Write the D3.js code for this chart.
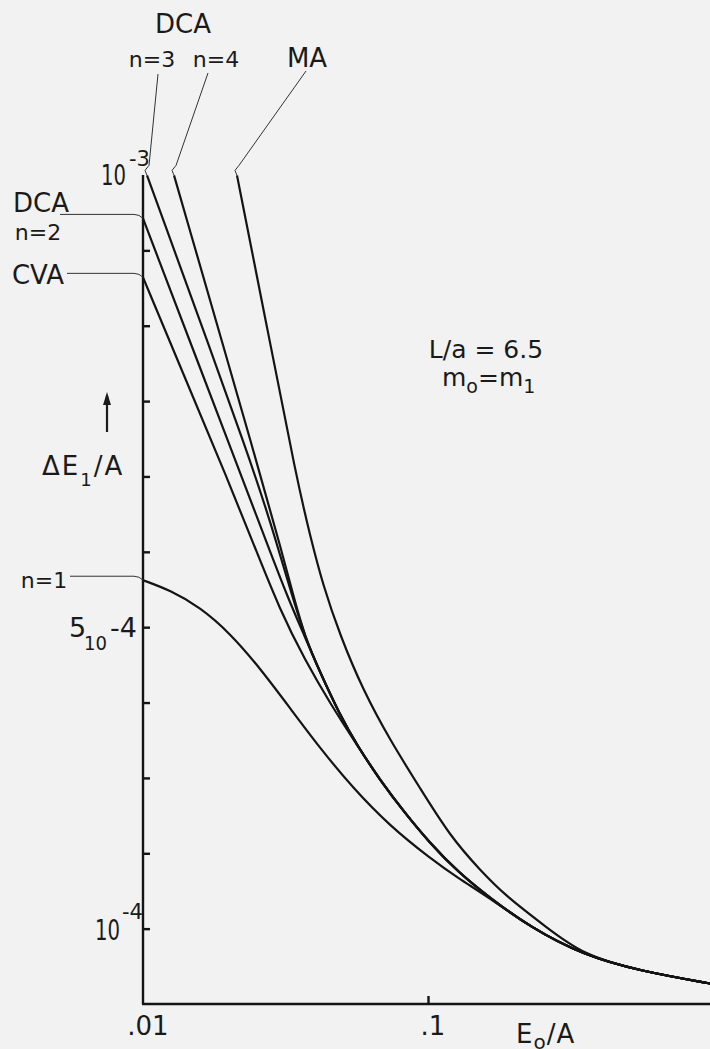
<!DOCTYPE html>
<html>
<head>
<meta charset="utf-8">
<script src="https://cdn.jsdelivr.net/npm/d3@7"></script>
<style>
  body { margin: 0; background: #f2f2f2; }
  svg { display: block; }
  text { font-family: "DejaVu Sans", sans-serif; fill: #1a1a1a; }
  .curve { fill: none; stroke: #141414; stroke-width: 2.2; }
  .leader { fill: none; stroke: #333; stroke-width: 1; }
  .axis path, .axis line { stroke: #141414; stroke-width: 2.4; }
</style>
</head>
<body>
<svg id="svg" width="710" height="1049"></svg>
<script>
// E0/A (log axis) and dE1/A values

// common tail shared by the DCA n=2,3,4 curves once they run together
var bundleE  = [0.03703, 0.04179, 0.04912, 0.05635, 0.06786, 0.08306, 0.1016, 0.1274, 0.165, 0.228, 0.3499, 0.5543, 1.0];
var bundleDE = [4.867e-4, 4.403e-4, 3.833e-4, 3.435e-4, 2.971e-4, 2.533e-4, 2.135e-4, 1.751e-4, 1.406e-4, 1.021e-4, 0.650e-4, 0.438e-4, 0.265e-4];

var maE   = [0.02137, 0.02724, 0.0347, 0.03855, 0.04281, 0.04912, 0.05915, 0.07356, 0.09374, 0.1195, 0.1522, 0.1893, 0.2574, 0.3499, 0.5543, 1.0];
var maDE  = [10.995e-4, 8.979e-4, 6.95e-4, 6.22e-4, 5.557e-4, 4.894e-4, 4.164e-4, 3.501e-4, 2.865e-4, 2.228e-4, 1.777e-4, 1.419e-4, 1.034e-4, 0.650e-4, 0.438e-4, 0.265e-4];

var n4E   = [0.01285, 0.02616, 0.03025, 0.03387];
var n4DE  = [10.995e-4, 6.95e-4, 6.088e-4, 5.385e-4];

var n3E   = [0.01033, 0.02533, 0.02953, 0.0336];
var n3DE  = [10.995e-4, 6.95e-4, 6.088e-4, 5.385e-4];

var n2E   = [0.01, 0.02243, 0.02746, 0.03227];
var n2DE  = [10.424e-4, 6.95e-4, 6.074e-4, 5.385e-4];

var cvaE  = [0.01, 0.01415, 0.01988, 0.02452, 0.03025, 0.03703, 0.0453, 0.05635, 0.06786, 0.08306, 0.1016, 0.1274, 0.165, 0.228, 0.3499, 0.5543, 1.0];
var cvaDE = [9.642e-4, 8.276e-4, 6.95e-4, 6.088e-4, 5.225e-4, 4.562e-4, 3.992e-4, 3.435e-4, 2.971e-4, 2.533e-4, 2.135e-4, 1.751e-4, 1.406e-4, 1.021e-4, 0.650e-4, 0.438e-4, 0.265e-4];

var n1E   = [0.01, 0.01244, 0.01585, 0.0202, 0.02574, 0.0328, 0.04179, 0.05456, 0.07356, 0.1016, 0.1274, 0.165, 0.228, 0.3499, 0.5543, 1.0];
var n1DE  = [5.623e-4, 5.491e-4, 5.265e-4, 4.92e-4, 4.456e-4, 3.926e-4, 3.395e-4, 2.865e-4, 2.361e-4, 1.936e-4, 1.671e-4, 1.406e-4, 1.021e-4, 0.650e-4, 0.438e-4, 0.265e-4];

var yTicks = [1e-4, 2e-4, 3e-4, 4e-4, 5e-4, 6e-4, 7e-4, 8e-4, 9e-4, 10e-4];
var xTicks = [0.01, 0.1, 1];
var xTickLabels = [".01", ".1", "1"];

var svg = d3.select("#svg");

var x = d3.scaleLog().domain([0.01, 1]).range([143, 713]);
var y = d3.scaleLinear().domain([0, 11e-4]).range([1004, 175]);

// axes
svg.append("g")
    .attr("class", "axis")
    .attr("transform", "translate(" + x(0.01) + ",0)")
    .call(d3.axisLeft(y).tickValues(yTicks).tickSize(-7).tickSizeOuter(0).tickFormat(""))
    .select(".domain").attr("d", "M0," + y(11e-4) + "V" + y(0));

svg.append("g")
    .attr("class", "axis")
    .attr("transform", "translate(0," + y(0) + ")")
    .call(d3.axisBottom(x).tickValues([0.1]).tickSize(-8).tickSizeOuter(0).tickFormat(""))
    .select(".domain").attr("d", "M" + (x(0.01) - 1) + ",0H710");

svg.selectAll(".xlab")
    .data(xTicks)
    .enter()
    .append("text")
    .attr("class", "xlab")
    .attr("x", d => x(d) + 5)
    .attr("y", 1035)
    .attr("text-anchor", "middle")
    .attr("font-size", 26)
    .text((d, i) => xTickLabels[i]);

// curves
var line = d3.line()
    .x(d => x(d[0]))
    .y(d => y(d[1]))
    .curve(d3.curveBasis);

function pts(es, ds) { return es.map((e, i) => [e, ds[i]]); }
var bundle = pts(bundleE, bundleDE);

var series = [
    pts(n1E, n1DE),
    pts(cvaE, cvaDE),
    pts(n2E, n2DE).concat(bundle),
    pts(n3E, n3DE).concat(bundle),
    pts(n4E, n4DE).concat(bundle),
    pts(maE, maDE)
];

svg.append("g")
    .selectAll("path")
    .data(series)
    .enter()
    .append("path")
    .attr("class", "curve")
    .attr("d", line);

// leader lines from labels to curve starts
function start(s) { return [x(s[0][0]), y(s[0][1])]; }

function topLeader(lx, ly, s) {
    var p = start(s);
    return [[lx, ly], [p[0] + 2, p[1] - 10], [p[0] - 2, p[1] - 5], [p[0], p[1]]];
}
function sideLeader(lx, s) {
    var p = start(s);
    return [[lx, p[1] - 4], [p[0] - 9, p[1] - 4], [p[0] - 4, p[1] - 3], [p[0], p[1]]];
}

var leaders = [
    topLeader(158, 74, series[3]),
    topLeader(208, 73, series[4]),
    topLeader(306, 71, series[5]),
    sideLeader(60, series[2]),
    sideLeader(67, series[1]),
    sideLeader(70, series[0])
];

svg.append("g")
    .selectAll("path")
    .data(leaders)
    .enter()
    .append("path")
    .attr("class", "leader")
    .attr("d", d3.line());

// labels
function label(t, lx, ly, size, anchor) {
    return svg.append("text")
        .attr("x", lx).attr("y", ly)
        .attr("font-size", size)
        .attr("text-anchor", anchor || "start")
        .text(t);
}

label("DCA", 183, 33, 26, "middle");
label("n=3", 152, 67, 22, "middle");
label("n=4", 216, 67, 22, "middle");
label("MA", 307, 67, 26, "middle");

label("DCA", 41, 212, 26, "middle");
label("n=2", 38, 240, 22, "middle");
label("CVA", 38, 284, 26, "middle");
label("n=1", 44, 588, 22, "middle");

// y tick labels
label("10", 101, 185, 29).attr("textLength", 25).attr("lengthAdjust", "spacingAndGlyphs");
label("-3", 129, 166, 21);

label("5", 69, 637, 27);
label("10", 84, 650, 20).attr("textLength", 23).attr("lengthAdjust", "spacingAndGlyphs");
label("-4", 110, 637, 27);

label("10", 95, 940, 29).attr("textLength", 25).attr("lengthAdjust", "spacingAndGlyphs");
label("-4", 122, 919, 21);

// y axis title with arrow
svg.append("path")
    .attr("d", "M107,432V396")
    .attr("stroke", "#1a1a1a").attr("stroke-width", 2.2);
svg.append("path")
    .attr("d", "M103,405L107,392L111,405Z")
    .attr("fill", "#1a1a1a");

var ty = label("\u0394E", 42, 475, 26).attr("letter-spacing", 2);
ty.append("tspan").attr("dy", 11).attr("font-size", 18).text("1");
ty.append("tspan").attr("dy", -11).attr("font-size", 26).text("/A");

// x axis title
var tx = label("E", 516, 1043, 26).attr("letter-spacing", 1);
tx.append("tspan").attr("dy", 6).attr("font-size", 20).text("o");
tx.append("tspan").attr("dy", -6).attr("font-size", 26).text("/A");

// parameters
label("L/a = 6.5", 486, 358, 25, "middle");
var tm = label("m", 442, 386, 25);
tm.append("tspan").attr("dy", 7).attr("font-size", 19).text("o");
tm.append("tspan").attr("dy", -7).attr("font-size", 25).text("=m");
tm.append("tspan").attr("dy", 7).attr("font-size", 19).text("1");
</script>
</body>
</html>
